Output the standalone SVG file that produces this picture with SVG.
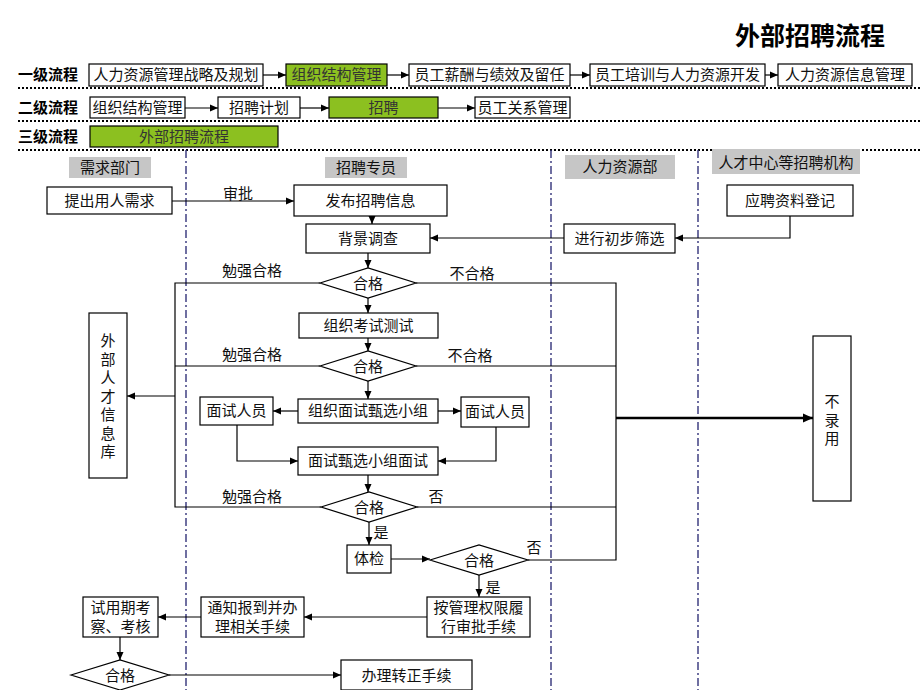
<svg xmlns="http://www.w3.org/2000/svg" width="920" height="690" viewBox="0 0 920 690">
<defs>
<marker id="ah" markerUnits="userSpaceOnUse" markerWidth="9" markerHeight="8" refX="8" refY="4" orient="auto"><path d="M0,0.5 L8,4 L0,7.5 Z" fill="#000"/></marker>
<marker id="ahb" markerUnits="userSpaceOnUse" markerWidth="11" markerHeight="10" refX="10" refY="5" orient="auto"><path d="M0,0.5 L10,5 L0,9.5 Z" fill="#000"/></marker>
<style>
.b{fill:#fff;stroke:#000;stroke-width:1.2}
.g{fill:#8cc020;stroke:#000;stroke-width:1.2}
.h{fill:#c6c6c6;stroke:none}
.t{font-family:"Noto Sans CJK SC","Liberation Sans",sans-serif;font-size:15px;text-anchor:middle;fill:#111}
.v{writing-mode:vertical-rl;letter-spacing:3.5px}
.gt{fill:#333}
.lb{font-family:"Noto Sans CJK SC","Liberation Sans",sans-serif;font-size:15px;font-weight:bold;fill:#000}
.c{fill:none;stroke:#000;stroke-width:1.2}
.a{marker-end:url(#ah)}
.dot{stroke:#000;stroke-width:2;stroke-dasharray:2 2}
.lane{stroke:#33337a;stroke-width:1.4;stroke-dasharray:8 3 2 3}
</style>
</defs>
<rect width="920" height="690" fill="#fff"/>
<text x="810" y="45" font-family="'Noto Sans CJK SC',sans-serif" font-size="25" font-weight="bold" text-anchor="middle">外部招聘流程</text>

<g id="guides">
<line class="dot" x1="18" y1="88" x2="920" y2="88"/>
<line class="dot" x1="18" y1="121" x2="920" y2="121"/>
<line class="dot" x1="18" y1="150" x2="920" y2="150"/>
<line class="lane" x1="186" y1="150" x2="186" y2="690"/>
<line class="lane" x1="551" y1="150" x2="551" y2="690"/>
<line class="lane" x1="698" y1="150" x2="698" y2="690"/>
</g>

<g id="level-labels">
<text class="lb" x="18" y="80">一级流程</text>
<text class="lb" x="18" y="113">二级流程</text>
<text class="lb" x="18" y="142">三级流程</text>
</g>

<g id="l1-a"><rect class="b" x="89" y="64" width="174" height="22"/><text class="t" x="176" y="80">人力资源管理战略及规划</text></g>
<g id="l1-b"><rect class="g" x="286" y="64" width="101" height="22"/><text class="t gt" x="336.5" y="80">组织结构管理</text></g>
<g id="l1-c"><rect class="b" x="409" y="64" width="161" height="22"/><text class="t" x="489.5" y="80">员工薪酬与绩效及留任</text></g>
<g id="l1-d"><rect class="b" x="590" y="64" width="175" height="22"/><text class="t" x="677.5" y="80">员工培训与人力资源开发</text></g>
<g id="l1-e"><rect class="b" x="778" y="64" width="134" height="22"/><text class="t" x="845" y="80">人力资源信息管理</text></g>

<g id="l2-a"><rect class="b" x="90" y="97" width="95" height="21"/><text class="t" x="137.5" y="113">组织结构管理</text></g>
<g id="l2-b"><rect class="b" x="218" y="97" width="82" height="21"/><text class="t" x="259" y="113">招聘计划</text></g>
<g id="l2-c"><rect class="g" x="329" y="97" width="109" height="21"/><text class="t gt" x="383.5" y="113">招聘</text></g>
<g id="l2-d"><rect class="b" x="475" y="97" width="95" height="21"/><text class="t" x="522.5" y="113">员工关系管理</text></g>

<g id="l3-a"><rect class="g" x="90" y="126" width="188" height="21"/><text class="t gt" x="184" y="142">外部招聘流程</text></g>

<g id="lane-headers">
<rect class="h" x="69" y="157" width="82" height="21"/><text class="t" x="110" y="173">需求部门</text>
<rect class="h" x="325" y="157" width="82" height="21"/><text class="t" x="366" y="173">招聘专员</text>
<rect class="h" x="565" y="155" width="110" height="24"/><text class="t" x="620" y="172">人力资源部</text>
<rect class="h" x="712" y="149" width="148" height="25"/><text class="t" x="786" y="168">人才中心等招聘机构</text>
</g>

<g id="connectors">
<line class="c a" x1="263" y1="75" x2="286" y2="75"/>
<line class="c a" x1="387" y1="75" x2="409" y2="75"/>
<line class="c a" x1="570" y1="75" x2="590" y2="75"/>
<line class="c a" x1="765" y1="75" x2="778" y2="75"/>
<line class="c a" x1="185" y1="108" x2="218" y2="108"/>
<line class="c a" x1="300" y1="108" x2="329" y2="108"/>
<line class="c a" x1="438" y1="108" x2="475" y2="108"/>

<line class="c a" x1="172" y1="201" x2="294" y2="201"/>
<line class="c a" x1="372" y1="216" x2="372" y2="224"/>
<line class="c a" x1="564" y1="238" x2="430" y2="238"/>
<polyline class="c a" points="790,216 790,238 675,238"/>
<line class="c a" x1="368" y1="253" x2="368" y2="268"/>
<polyline class="c" points="320,283 175,283 175,507 321,507"/>
<polyline class="c" points="416,283 616,283 616,560 528,560"/>
<line class="c a" x1="368" y1="298" x2="368" y2="313"/>
<line class="c a" x1="368" y1="338" x2="368" y2="351"/>
<line class="c" x1="320" y1="366" x2="175" y2="366"/>
<line class="c" x1="416" y1="366" x2="616" y2="366"/>
<line class="c a" x1="368" y1="381" x2="368" y2="399"/>
<line class="c a" x1="298" y1="411" x2="273" y2="411"/>
<line class="c a" x1="438" y1="411" x2="461" y2="411"/>
<polyline class="c a" points="237,425 237,461 298,461"/>
<polyline class="c a" points="496,427 496,461 438,461"/>
<line class="c a" x1="368" y1="475" x2="368" y2="492"/>
<line class="c" x1="417" y1="507" x2="616" y2="507"/>
<line class="c a" x1="175" y1="396" x2="127" y2="396"/>
<line x1="616" y1="418" x2="813" y2="418" stroke="#000" stroke-width="2.4" marker-end="url(#ahb)"/>
<line class="c a" x1="369" y1="522" x2="369" y2="545"/>
<line class="c a" x1="391" y1="559" x2="430" y2="559"/>
<line class="c a" x1="479" y1="575" x2="479" y2="597"/>
<line class="c a" x1="427" y1="617" x2="304" y2="617"/>
<line class="c a" x1="201" y1="617" x2="158" y2="617"/>
<line class="c a" x1="120" y1="637" x2="120" y2="660"/>
<line class="c a" x1="169" y1="675" x2="341" y2="675"/>

<text class="t" x="238" y="199">审批</text>
<text class="t" x="252" y="276">勉强合格</text>
<text class="t" x="472" y="279">不合格</text>
<text class="t" x="252" y="360">勉强合格</text>
<text class="t" x="470" y="361">不合格</text>
<text class="t" x="252" y="502">勉强合格</text>
<text class="t" x="436" y="502">否</text>
<text class="t" x="381" y="538">是</text>
<text class="t" x="534" y="553">否</text>
<text class="t" x="493" y="593">是</text>
</g>

<g id="n-req"><rect class="b" x="47" y="187" width="125" height="27"/><text class="t" x="109.5" y="206">提出用人需求</text></g>
<g id="n-publish"><rect class="b" x="294" y="185" width="153" height="31"/><text class="t" x="370.5" y="206">发布招聘信息</text></g>
<g id="n-bg"><rect class="b" x="306" y="224" width="124" height="29"/><text class="t" x="368" y="244">背景调查</text></g>
<g id="n-screen"><rect class="b" x="564" y="224" width="111" height="29"/><text class="t" x="619.5" y="244">进行初步筛选</text></g>
<g id="n-reg"><rect class="b" x="727" y="185" width="126" height="31"/><text class="t" x="790" y="206">应聘资料登记</text></g>
<g id="d1"><polygon class="b" points="320,283 368,268 416,283 368,298"/><text class="t" x="368" y="289">合格</text></g>
<g id="n-exam"><rect class="b" x="299" y="313" width="139" height="25"/><text class="t" x="368.5" y="331">组织考试测试</text></g>
<g id="d2"><polygon class="b" points="320,366 368,351 416,366 368,381"/><text class="t" x="368" y="372">合格</text></g>
<g id="n-group"><rect class="b" x="298" y="399" width="140" height="24"/><text class="t" x="368" y="416">组织面试甄选小组</text></g>
<g id="n-int-l"><rect class="b" x="200" y="397" width="73" height="28"/><text class="t" x="236.5" y="416">面试人员</text></g>
<g id="n-int-r"><rect class="b" x="461" y="397" width="68" height="30"/><text class="t" x="495" y="417">面试人员</text></g>
<g id="n-interview"><rect class="b" x="298" y="447" width="140" height="28"/><text class="t" x="368" y="466">面试甄选小组面试</text></g>
<g id="d3"><polygon class="b" points="321,507 369,492 417,507 369,522"/><text class="t" x="369" y="513">合格</text></g>
<g id="n-talent"><rect class="b" x="89" y="313" width="38" height="165"/>
<text class="t v" x="108" y="398">外部人才信息库</text></g>
<g id="n-reject"><rect class="b" x="813" y="336" width="38" height="165"/>
<text class="t v" x="832" y="422">不录用</text></g>
<g id="n-physical"><rect class="b" x="347" y="545" width="44" height="28"/><text class="t" x="369" y="564">体检</text></g>
<g id="d4"><polygon class="b" points="430,560 479,545 528,560 479,575"/><text class="t" x="479" y="566">合格</text></g>
<g id="n-approve"><rect class="b" x="427" y="597" width="103" height="40"/><text class="t" x="478.5" y="613">按管理权限履</text><text class="t" x="478.5" y="632">行审批手续</text></g>
<g id="n-notify"><rect class="b" x="201" y="597" width="103" height="40"/><text class="t" x="252.5" y="613">通知报到并办</text><text class="t" x="252.5" y="632">理相关手续</text></g>
<g id="n-trial"><rect class="b" x="83" y="597" width="75" height="40"/><text class="t" x="120.5" y="613">试用期考</text><text class="t" x="120.5" y="632">察、考核</text></g>
<g id="d5"><polygon class="b" points="71,675 120,660 169,675 120,690"/><text class="t" x="120" y="681">合格</text></g>
<g id="n-regular"><rect class="b" x="341" y="660" width="131" height="30"/><text class="t" x="406.5" y="681">办理转正手续</text></g>
</svg>
